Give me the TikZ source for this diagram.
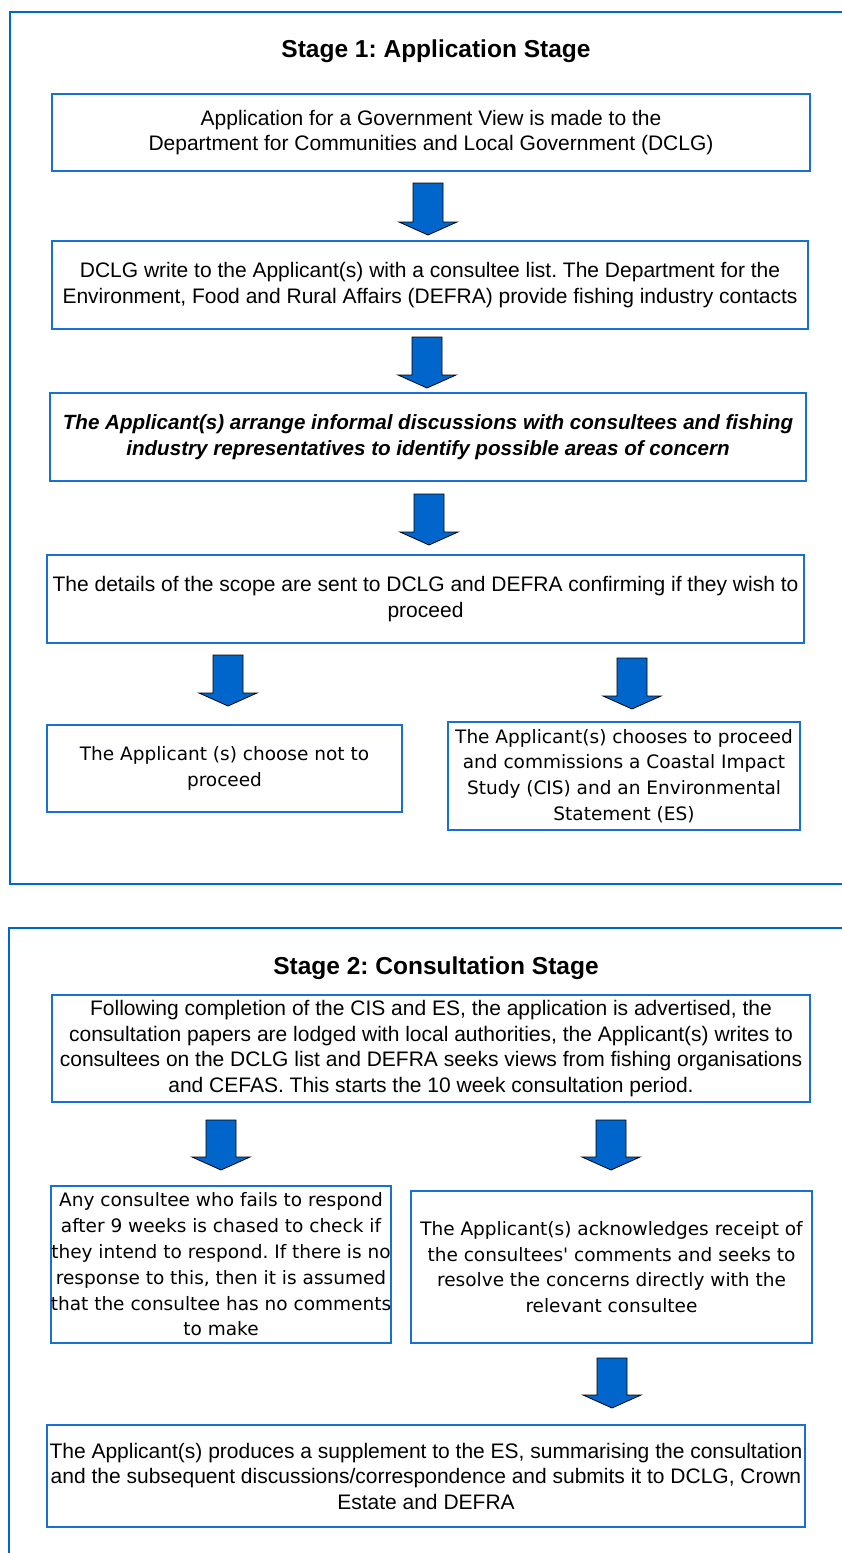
\documentclass[tikz,border=0pt]{standalone}
\usepackage{fontspec}
\setmainfont{Liberation Sans}
\newfontfamily\widefont{DejaVu Sans}
\definecolor{frameblue}{RGB}{0,102,204}
\definecolor{boxblue}{RGB}{24,112,212}
\frenchspacing

% block arrow pointing down: centre x, top y, tip y
\newcommand{\dnarrow}[3]{%
\filldraw[fill=frameblue,draw=black,line width=0.8pt,line join=miter]
  (#1-15,#2) -- (#1+15,#2) -- (#1+15,#3-13) -- (#1+29,#3-13)
  -- (#1,#3) -- (#1-29,#3-13) -- (#1-15,#3-13) -- cycle;}

\begin{document}
\begin{tikzpicture}[x=1pt,y=-1pt,
  box/.style={draw=boxblue,line width=2pt,align=center,inner sep=0pt,
    font=\fontsize{21}{25.5}\selectfont},
  widebox/.style={box,font=\widefont\fontsize{18.5}{25.8}\selectfont},
  frame/.style={draw=frameblue,line width=2.6pt},
  title/.style={font=\bfseries\fontsize{24.5}{28}\selectfont}]
\useasboundingbox (0,0) rectangle (842,1553);
\clip (0,0) rectangle (842,1553);

% Stage 1
\draw[frame] (10,12) rectangle (870,884);
\node[title] (stageone) at (436,51) {Stage 1: Application Stage};

\path
(431,132.5) node[box,minimum width=758,minimum height=77] (appview)
  {Application for a Government View is made to the\\
   Department for Communities and Local Government (DCLG)}
(430,285) node[box,minimum width=756,minimum height=88] (contacts)
  {DCLG write to the Applicant(s) with a consultee list. The Department for the\\
   Environment, Food and Rural Affairs (DEFRA) provide fishing industry contacts}
(428,437) node[box,minimum width=756,minimum height=88,
    font=\bfseries\itshape\fontsize{20.6}{25.5}\selectfont] (informal)
  {The Applicant(s) arrange informal discussions with consultees and fishing\\
   industry representatives to identify possible areas of concern}
(425.5,599) node[box,minimum width=757,minimum height=88] (scope)
  {The details of the scope are sent to DCLG and DEFRA confirming if they wish to\\
   proceed}
(224.5,768.5) node[widebox,minimum width=355,minimum height=87] (notproceed)
  {The Applicant (s) choose not to\\ proceed}
(624,776) node[widebox,minimum width=352,minimum height=108] (proceed)
  {The Applicant(s) chooses to proceed\\ and commissions a Coastal Impact\\
   Study (CIS) and an Environmental\\ Statement (ES)}
;

\dnarrow{428}{183}{235}
\dnarrow{427}{337}{388}
\dnarrow{429}{494}{545}
\dnarrow{228}{655}{706}
\dnarrow{632}{658}{709}

% Stage 2
\draw[frame] (9,928) rectangle (870,1580);
\node[title] (stagetwo) at (436,968) {Stage 2: Consultation Stage};

\path
(431,1048.5) node[box,minimum width=758,minimum height=107] (advert)
  {Following completion of the CIS and ES, the application is advertised, the\\
   consultation papers are lodged with local authorities, the Applicant(s) writes to\\
   consultees on the DCLG list and DEFRA seeks views from fishing organisations\\
   and CEFAS. This starts the 10 week consultation period.}
(221,1264.5) node[widebox,minimum width=340,minimum height=157] (chase)
  {Any consultee who fails to respond\\ after 9 weeks is chased to check if\\
   they intend to respond. If there is no\\ response to this, then it is assumed\\
   that the consultee has no comments\\ to make}
(611.5,1267) node[widebox,minimum width=401,minimum height=152] (acknow)
  {The Applicant(s) acknowledges receipt of\\ the consultees' comments and seeks to\\
   resolve the concerns directly with the\\ relevant consultee}
(426,1476) node[box,minimum width=758,minimum height=102] (supplement)
  {The Applicant(s) produces a supplement to the ES, summarising the consultation\\
   and the subsequent discussions/correspondence and submits it to DCLG, Crown\\
   Estate and DEFRA}
;

\dnarrow{221}{1120}{1170}
\dnarrow{611}{1120}{1170}
\dnarrow{612}{1358}{1408}
\end{tikzpicture}
\end{document}
